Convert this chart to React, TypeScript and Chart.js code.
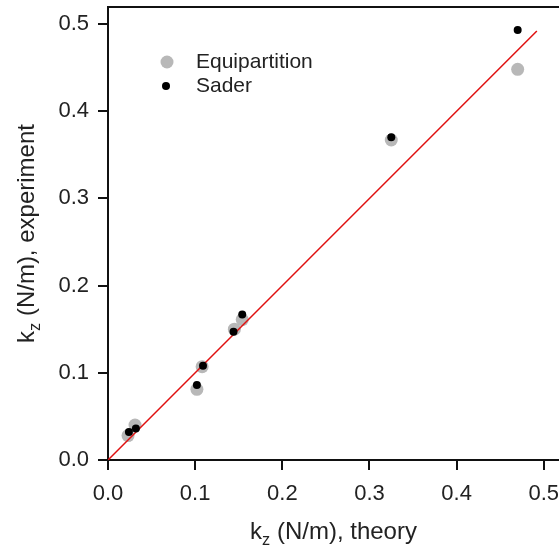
import React, { useEffect, useRef } from "react";
import { Chart, registerables } from "chart.js";

Chart.register(...registerables);

const theoryEqui = [0.023, 0.031, 0.102, 0.108, 0.145, 0.154, 0.325, 0.470];
const expEqui = [0.028, 0.040, 0.081, 0.107, 0.150, 0.161, 0.367, 0.448];
const theorySader = [0.024, 0.032, 0.102, 0.109, 0.144, 0.154, 0.325, 0.470];
const expSader = [0.032, 0.036, 0.086, 0.108, 0.147, 0.167, 0.370, 0.493];
const fitLine = [0, 0.492];
const tickValues = [0, 0.1, 0.2, 0.3, 0.4, 0.5];
const legendLabels = ["Equipartition", "Sader"];
const xTitle = ["k", "z", " (N/m), theory"];
const yTitle = ["k", "z", " (N/m), experiment"];

const FONT = "Liberation Sans, Arial, sans-serif";
const VIEW_W = 559;
const CANVAS_W = 566;

function drawSubTitle(ctx: CanvasRenderingContext2D, parts: string[], size: number) {
  ctx.font = `${size}px ${FONT}`;
  const w0 = ctx.measureText(parts[0]).width;
  const w2 = ctx.measureText(parts[2]).width;
  ctx.font = `${size * 0.68}px ${FONT}`;
  const w1 = ctx.measureText(parts[1]).width;
  const total = w0 + w1 + w2;
  let x = -total / 2;
  ctx.textBaseline = "alphabetic";
  ctx.textAlign = "left";
  ctx.font = `${size}px ${FONT}`;
  ctx.fillText(parts[0], x, 0);
  x += w0;
  ctx.font = `${size * 0.68}px ${FONT}`;
  ctx.fillText(parts[1], x, size * 0.25);
  x += w1;
  ctx.font = `${size}px ${FONT}`;
  ctx.fillText(parts[2], x, 0);
}

const decorPlugin = {
  id: "decor",
  afterDraw(chart: any) {
    const ctx = chart.ctx as CanvasRenderingContext2D;
    const a = chart.chartArea;
    ctx.save();
    ctx.strokeStyle = "#111";
    ctx.lineWidth = 2;
    ctx.beginPath();
    ctx.moveTo(a.left - 1, a.top);
    ctx.lineTo(a.right, a.top);
    ctx.stroke();
    ctx.fillStyle = "#222";
    ctx.save();
    ctx.translate((a.left + Math.min(a.right, VIEW_W)) / 2, 539);
    drawSubTitle(ctx, xTitle, 24);
    ctx.restore();
    ctx.save();
    ctx.translate(34, (a.top + a.bottom) / 2);
    ctx.rotate(-Math.PI / 2);
    drawSubTitle(ctx, yTitle, 24);
    ctx.restore();
    const lx = 167;
    const ly = [62, 86];
    ctx.fillStyle = "#b8b8b8";
    ctx.beginPath();
    ctx.arc(lx, ly[0], 6.5, 0, Math.PI * 2);
    ctx.fill();
    ctx.fillStyle = "#000";
    ctx.beginPath();
    ctx.arc(lx - 1, ly[1], 4, 0, Math.PI * 2);
    ctx.fill();
    ctx.fillStyle = "#222";
    ctx.font = `21px ${FONT}`;
    ctx.textBaseline = "middle";
    ctx.textAlign = "left";
    ctx.fillText(legendLabels[0], 196, ly[0]);
    ctx.fillText(legendLabels[1], 196, ly[1]);
    ctx.restore();
  },
};

export default function App() {
  const ref = useRef<HTMLCanvasElement>(null);
  useEffect(() => {
    document.body.style.margin = "0";
    const ctx = ref.current!.getContext("2d")!;
    const chart = new Chart(ctx, {
      type: "scatter",
      data: {
        datasets: [
          {
            label: legendLabels[1],
            data: theorySader.map((x, i) => ({ x, y: expSader[i] })),
            backgroundColor: "#000",
            borderColor: "#000",
            pointRadius: 4,
            pointBorderWidth: 0,
          },
          {
            type: "line",
            label: "fit",
            data: fitLine.map((v) => ({ x: v, y: v })),
            borderColor: "#e01010",
            borderWidth: 1.5,
            pointRadius: 0,
            fill: false,
          } as any,
          {
            label: legendLabels[0],
            data: theoryEqui.map((x, i) => ({ x, y: expEqui[i] })),
            backgroundColor: "#b8b8b8",
            borderColor: "#b8b8b8",
            pointRadius: 6.5,
            pointBorderWidth: 0,
          },
        ],
      },
      options: {
        animation: false,
        responsive: false,
        layout: { padding: { top: 7, right: 0, left: 0, bottom: 0 } },
        plugins: { legend: { display: false }, tooltip: { enabled: false } },
        scales: {
          x: {
            type: "linear",
            min: 0,
            max: 0.518,
            afterFit: (s: any) => { s.height = 90; s.paddingLeft = 0; s.paddingRight = 0; },
            afterBuildTicks: (s: any) => { s.ticks = tickValues.map((v) => ({ value: v })); },
            border: { display: true, color: "#111", width: 2 },
            grid: { drawOnChartArea: false, drawTicks: true, tickLength: 10, color: "#111", lineWidth: 2 },
            ticks: {
              color: "#222",
              font: { family: FONT, size: 22 },
              padding: 11,
              maxRotation: 0,
              callback: (v: any) => Number(v).toFixed(1),
            },
          },
          y: {
            type: "linear",
            min: 0,
            max: 0.5195,
            afterFit: (s: any) => { s.width = 108; s.paddingTop = 0; s.paddingBottom = 0; },
            afterBuildTicks: (s: any) => { s.ticks = tickValues.map((v) => ({ value: v })); },
            border: { display: true, color: "#111", width: 2 },
            grid: { drawOnChartArea: false, drawTicks: true, tickLength: 10, color: "#111", lineWidth: 2 },
            ticks: {
              color: "#222",
              font: { family: FONT, size: 22 },
              padding: 9,
              callback: (v: any) => Number(v).toFixed(1),
            },
          },
        },
      },
      plugins: [decorPlugin],
    });
    return () => chart.destroy();
  }, []);
  return (
    <div style={{ position: "fixed", left: 0, top: 0, width: VIEW_W, height: 550, overflow: "hidden", background: "#fff" }}>
      <canvas ref={ref} width={CANVAS_W} height={550} style={{ display: "block" }} />
    </div>
  );
}
